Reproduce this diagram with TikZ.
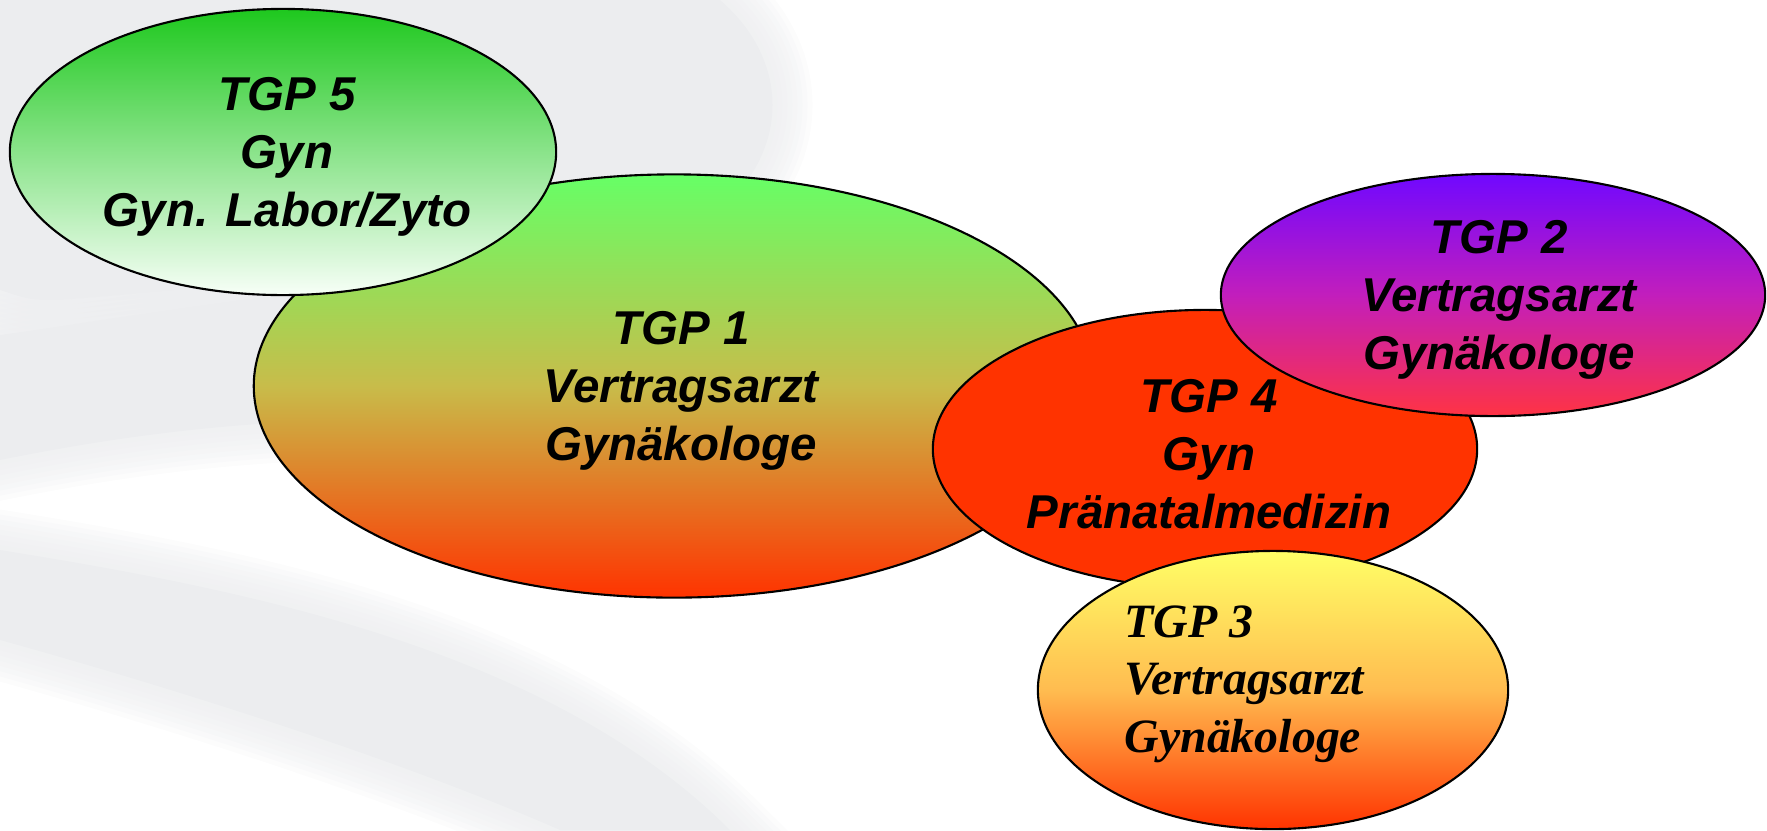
\documentclass[tikz,border=0pt]{standalone}
\usepackage{fontspec}
\setmainfont{Liberation Sans}
\newfontfamily\timesfont{Liberation Serif}
\usetikzlibrary{shapes.geometric}

\definecolor{bgray}{HTML}{ECEDEF}
\definecolor{gruen}{HTML}{1EC81E}
\definecolor{hellgruen}{HTML}{66FF66}
\definecolor{oliv}{HTML}{C8BC4A}
\definecolor{rotorange}{HTML}{FF3300}
\definecolor{violett}{HTML}{7008FF}
\definecolor{magenta2}{HTML}{C21EBC}
\definecolor{pinkrot}{HTML}{FF3344}
\definecolor{gelb}{HTML}{FFFF66}
\definecolor{orange2}{HTML}{FFBC50}

\tikzset{
  tgp/.style={ellipse, draw=black, line width=0.6pt, inner sep=0pt},
  tgptext/.style={inner sep=0pt, align=center,
    font=\fontsize{13.5pt}{16.4pt}\selectfont\bfseries\itshape},
  tgpserif/.style={inner sep=0pt, align=left, anchor=west,
    font=\timesfont\fontsize{13.6pt}{16.4pt}\selectfont\bfseries\itshape},
}

\begin{document}
\begin{tikzpicture}[x=0.01cm, y=-0.01cm]
    \useasboundingbox (0,0) rectangle (1767,830);

    % Background swooshes (soft edges by stacked strokes)
    \path[save path=\swooshtop] (0,0) -- (720,0)
        .. controls (790,60) and (790,150) .. (720,210) -- (560,300) -- (300,280)
        -- (60,300) .. controls (30,300) .. (0,290) -- cycle;
    \path[save path=\swooshmid] (0,335)
        .. controls (120,318) and (220,300) .. (330,290) -- (330,420)
        .. controls (200,425) and (100,440) .. (0,460) -- cycle;
    \path[save path=\swooshlow] (0,550)
        .. controls (250,590) and (550,650) .. (730,830) -- (560,830)
        .. controls (400,760) and (180,690) .. (0,640) -- cycle;
    \foreach \s in {\swooshtop,\swooshmid,\swooshlow}{
        \path[fill=bgray, use path=\s];
        \foreach \w in {0.1,0.2,0.3,0.4,0.5,0.6,0.7,0.8}{
            \path[draw=bgray, opacity=0.18, line width=\w cm, use path=\s];
        }
    }

    % TGP 1
    \node[tgp, minimum width=8.4cm, minimum height=4.23cm,
        top color=hellgruen, bottom color=rotorange, middle color=oliv] (tgp1) at (674,386) {};
    \node[tgptext] (txt1) at (681,391) {TGP 1\\Vertragsarzt\\Gynäkologe};

    % TGP 5
    \node[tgp, minimum width=5.46cm, minimum height=2.86cm,
        top color=gruen, bottom color=white!97!green] (tgp5) at (283,152) {};
    \node[tgptext] (txt5) at (287,157) {TGP 5\\Gyn\\Gyn. Labor/Zyto};

    % TGP 4
    \node[tgp, minimum width=5.44cm, minimum height=2.78cm, fill=rotorange] (tgp4) at (1205,449) {};
    \node[tgptext] (txt4) at (1209,454) {TGP 4\\Gyn\\Pränatalmedizin};

    % TGP 2
    \node[tgp, minimum width=5.44cm, minimum height=2.42cm,
        top color=violett, bottom color=pinkrot, middle color=magenta2] (tgp2) at (1493,295) {};
    \node[tgptext] (txt2) at (1499,300) {TGP 2\\Vertragsarzt\\Gynäkologe};

    % TGP 3
    \node[tgp, minimum width=4.7cm, minimum height=2.78cm,
        top color=gelb, bottom color=rotorange, middle color=orange2] (tgp3) at (1273,690) {};
    \node[tgpserif] (txt3) at (1124,684) {TGP 3\\Vertragsarzt\\Gynäkologe};
\end{tikzpicture}
\end{document}
